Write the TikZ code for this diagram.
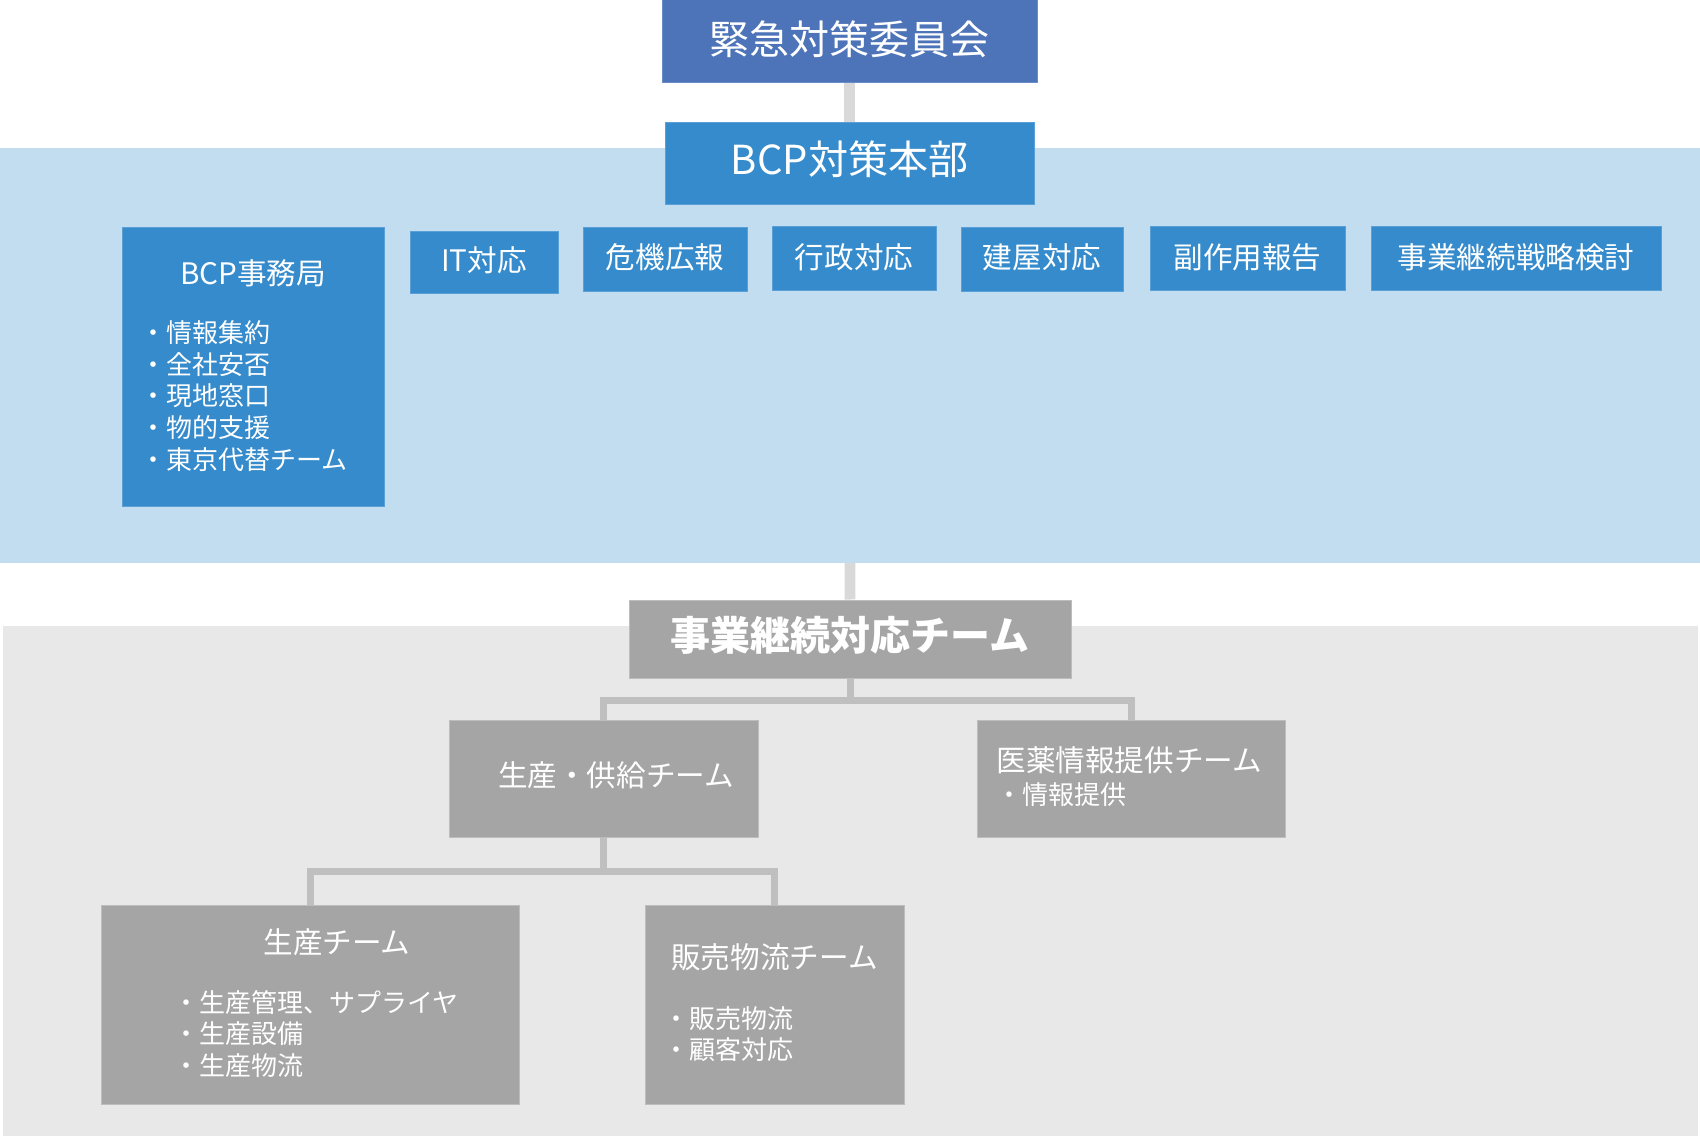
\documentclass[tikz,border=0pt]{standalone}
\usepackage{fontspec}
\setmainfont{Noto Sans CJK JP}
\usetikzlibrary{fit}
\pgfdeclarelayer{back}
\pgfdeclarelayer{band}
\pgfsetlayers{back,band,main}
\definecolor{iinkaiblue}{HTML}{4D73B8}
\definecolor{iinkaiedge}{HTML}{6A8CC8}
\definecolor{honbublue}{HTML}{358BCB}
\definecolor{edgeblue}{HTML}{5A9FD6}
\definecolor{bandblue}{HTML}{C2DDEF}
\definecolor{boxgray}{HTML}{A5A5A5}
\definecolor{edgegray}{HTML}{BDBDBD}
\definecolor{bandgray}{HTML}{E8E8E8}
\definecolor{linelight}{HTML}{D9D9D9}
\definecolor{linegray}{HTML}{BFBFBF}

\begin{document}
\begin{tikzpicture}[x=0.5pt, y=-0.5pt,
  box/.style={inner sep=0pt, line width=0.5pt},
  bluebox/.style={box, fill=honbublue, draw=edgeblue},
  graybox/.style={box, fill=boxgray, draw=edgegray},
  txt/.style={inner sep=0pt, text=white},
  big/.style={font=\fontsize{20}{24}\selectfont},
  mid/.style={font=\fontsize{14.8}{18}\selectfont},
  small/.style={font=\fontsize{13}{15.85}\selectfont, align=left},
  topline/.style={draw=linelight, line width=5.3pt},
  subline/.style={draw=linegray, line width=3.5pt, line join=miter}]

\useasboundingbox (0,0) rectangle (1700,1143);

\begin{pgfonlayer}{band}
\fill[bandblue] (0,148) rectangle (1700,563);
\fill[bandgray] (3,626) rectangle (1698,1136);
\end{pgfonlayer}

\node[box, fill=iinkaiblue, draw=iinkaiedge, fit={(662,0) (1037,83)}] (iinkai) {};
\node[txt, big] (iinkaitext) at (849.5,39) {緊急対策委員会};
\node[bluebox, fit={(665,123) (1034,205)}] (honbu) {};
\node[txt, big] (honbutext) at (849.5,159) {BCP対策本部};

\node[bluebox, fit={(122,228) (384,507)}] (jimukyoku) {};
\node[txt, mid] (jimutitle) at (253,273) {BCP事務局};
\node[txt, small, anchor=west] (jimulist) at (140,396) {・情報集約\\・全社安否\\・現地窓口\\・物的支援\\・東京代替チーム};

\node[bluebox, fit={(410,232) (558,294)}] (it) {};
\node[txt, mid] (ittext) at (484,260) {IT対応};
\node[bluebox, fit={(583,228) (747,292)}] (kiki) {};
\node[txt, mid] (kikitext) at (665,257) {危機広報};
\node[bluebox, fit={(772,227) (936,291)}] (gyosei) {};
\node[txt, mid] (gyoseitext) at (854,257) {行政対応};
\node[bluebox, fit={(961,228) (1123,292)}] (tateya) {};
\node[txt, mid] (tateyatext) at (1042,257) {建屋対応};
\node[bluebox, fit={(1150,227) (1345,291)}] (fukusayo) {};
\node[txt, mid] (fukusayotext) at (1247.5,257) {副作用報告};
\node[bluebox, fit={(1371,227) (1661,291)}] (senryaku) {};
\node[txt, mid] (senryakutext) at (1516,257) {事業継続戦略検討};

\node[graybox, fit={(629,600) (1071,678)}] (keizoku) {};
\node[txt, font=\fontsize{20}{24}\selectfont\bfseries] (keizokutext) at (850,635) {事業継続対応チーム};

\node[graybox, fit={(449,720) (758,837)}] (kyokyu) {};
\node[txt, mid] (kyokyutitle) at (616,775) {生産・供給チーム};
\node[graybox, fit={(977,720) (1285,837)}] (iyaku) {};
\node[txt, mid, anchor=west] (iyakutitle) at (996,760) {医薬情報提供チーム};
\node[txt, small, anchor=west] (iyakulist) at (996,795) {・情報提供};

\node[graybox, fit={(101,905) (519,1104)}] (seisan) {};
\node[txt, mid] (seisantitle) at (337,942) {生産チーム};
\node[txt, small, anchor=west] (seisanlist) at (173,1034) {・生産管理、サプライヤ\\・生産設備\\・生産物流};
\node[graybox, fit={(645,905) (904,1104)}] (hanbai) {};
\node[txt, mid] (hanbaititle) at (774.5,957) {販売物流チーム};
\node[txt, small, anchor=west] (hanbailist) at (663,1034) {・販売物流\\・顧客対応};

\draw[topline] (iinkai.south) -- (honbu.north);
\begin{pgfonlayer}{back}
\draw[topline] (honbu.south) -- (keizoku.north);
\end{pgfonlayer}

\draw[subline] (keizoku.south) -- ++(0,22) -| (kyokyu.north);
\draw[subline] (keizoku.south) -- ++(0,22) -| (iyaku.north);
\draw[subline] (kyokyu.south) -- ++(0,34) -| (seisan.north);
\draw[subline] (kyokyu.south) -- ++(0,34) -| (hanbai.north);

\end{tikzpicture}
\end{document}
